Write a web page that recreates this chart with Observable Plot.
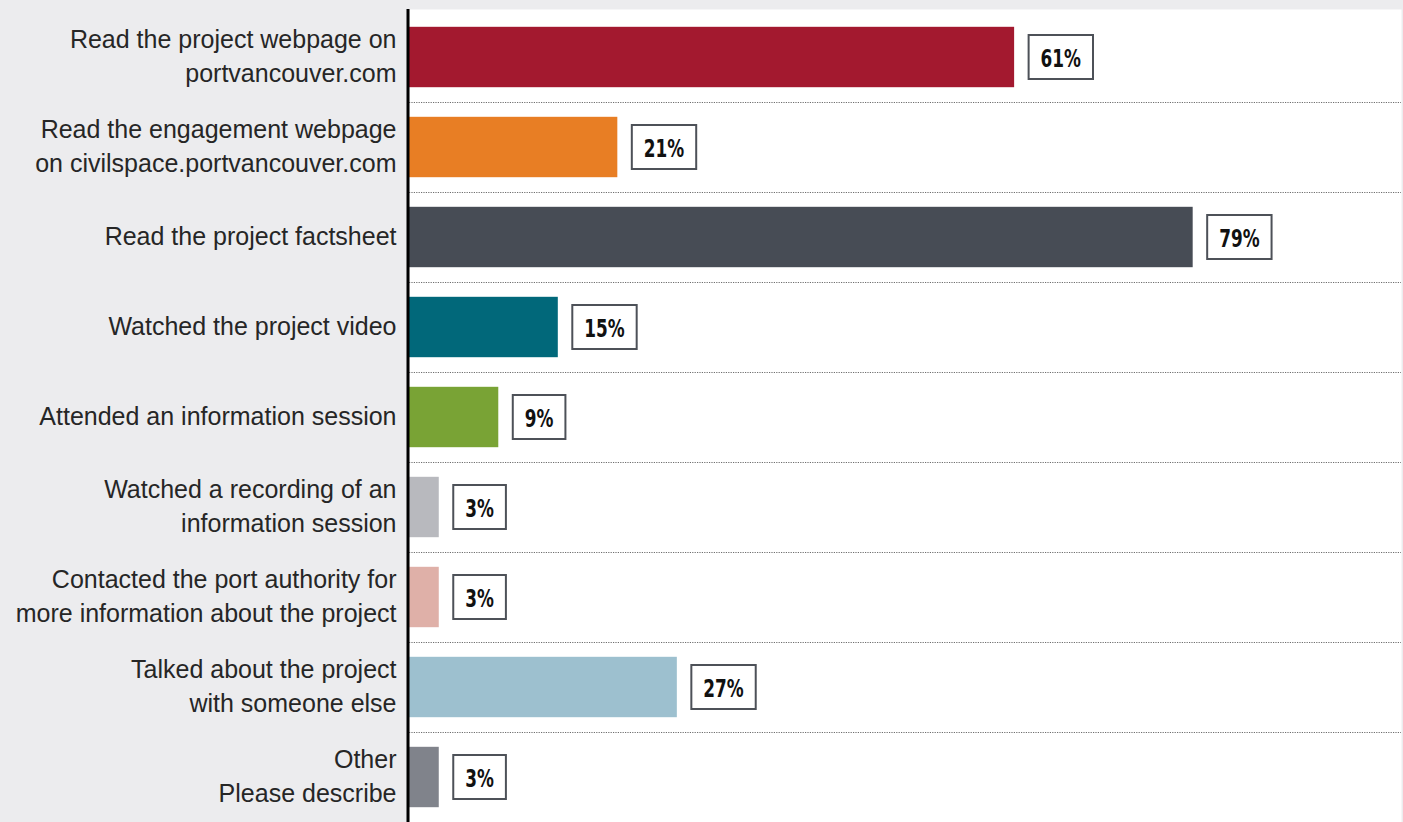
<!DOCTYPE html>
<html>
<head>
<meta charset="utf-8">
<script src="https://cdn.jsdelivr.net/npm/d3@7"></script>
<script src="https://cdn.jsdelivr.net/npm/@observablehq/plot@0.6"></script>
<style>
html, body { margin: 0; padding: 0; background: #ececee; overflow: hidden; }
#chart svg { display: block; }
.vlabel text { font-stretch: condensed; }
</style>
</head>
<body>
<div id="chart"></div>
<script>
const categories = [
  "Read the project webpage on\nportvancouver.com",
  "Read the engagement webpage\non civilspace.portvancouver.com",
  "Read the project factsheet",
  "Watched the project video",
  "Attended an information session",
  "Watched a recording of an\ninformation session",
  "Contacted the port authority for\nmore information about the project",
  "Talked about the project\nwith someone else",
  "Other\nPlease describe"
];
const values = [61, 21, 79, 15, 9, 3, 3, 27, 3];
const colors = ["#a3192f", "#e87e24", "#474c55", "#01687a", "#79a335", "#b8b9be", "#dfb0a8", "#9dc0cf", "#80838b"];
const valueLabels = values.map(v => v + "%");

const data = categories.map((c, i) => ({category: c, value: values[i], color: colors[i], label: valueLabels[i]}));

function separators(index, scales, vals, dimensions) {
  const {x, y} = scales;
  const g = d3.create("svg:g")
    .attr("stroke", "#6e6e6e")
    .attr("stroke-width", 1.2)
    .attr("stroke-dasharray", "1.2,1.2");
  categories.slice(1).forEach(c => {
    const yy = Math.round(y(c)) + 0.5;
    g.append("line")
      .attr("x1", x(0))
      .attr("x2", dimensions.width - dimensions.marginRight)
      .attr("y1", yy)
      .attr("y2", yy);
  });
  return g.node();
}

const valueFont = "'Liberation Sans Narrow', 'DejaVu Sans', sans-serif";

const chart = Plot.plot({
  width: 1403,
  height: 825,
  marginLeft: 409,
  marginRight: 2,
  marginTop: 9,
  marginBottom: 0,
  style: {background: "transparent", fontFamily: "'Liberation Sans', Arial, sans-serif"},
  x: {domain: [0, 100], axis: null},
  y: {domain: categories, padding: 0, axis: null},
  color: {type: "identity"},
  marks: [
    Plot.frame({fill: "white", stroke: null}),
    separators,
    Plot.barX(data, {x: "value", y: "category", fill: "color", insetTop: 14.8, insetBottom: 14.8}),
    Plot.ruleX([0], {stroke: "black", strokeWidth: 3, dx: -1.5}),
    Plot.axisY({tickSize: 0, tickPadding: 13, fontSize: 25, lineHeight: 1.36, dy: -3, color: "#262626", label: null}),
    Plot.text(data, {
      x: "value", y: "category", text: "label",
      dx: 26, dy: 1.5, textAnchor: "start",
      fontSize: 25, fontWeight: "bold", fontFamily: valueFont,
      fill: "#111", className: "vlabel"
    })
  ]
});

document.getElementById("chart").appendChild(chart);

// condense the value labels and draw outlined boxes behind them
chart.querySelectorAll(".vlabel text").forEach(t => {
  let b = t.getBBox();
  const target = b.width * 0.75;
  if (target < b.width - 1) {
    t.setAttribute("textLength", target);
    t.setAttribute("lengthAdjust", "spacingAndGlyphs");
    b = t.getBBox();
  }
  const r = document.createElementNS("http://www.w3.org/2000/svg", "rect");
  const cy = b.y + b.height / 2 - 1.5;
  r.setAttribute("x", b.x - 12);
  r.setAttribute("y", cy - 22);
  r.setAttribute("width", b.width + 24);
  r.setAttribute("height", 44);
  r.setAttribute("fill", "white");
  r.setAttribute("stroke", "#4d5158");
  r.setAttribute("stroke-width", 2);
  const tr = t.getAttribute("transform");
  if (tr) r.setAttribute("transform", tr);
  t.parentNode.insertBefore(r, t);
});
</script>
</body>
</html>
